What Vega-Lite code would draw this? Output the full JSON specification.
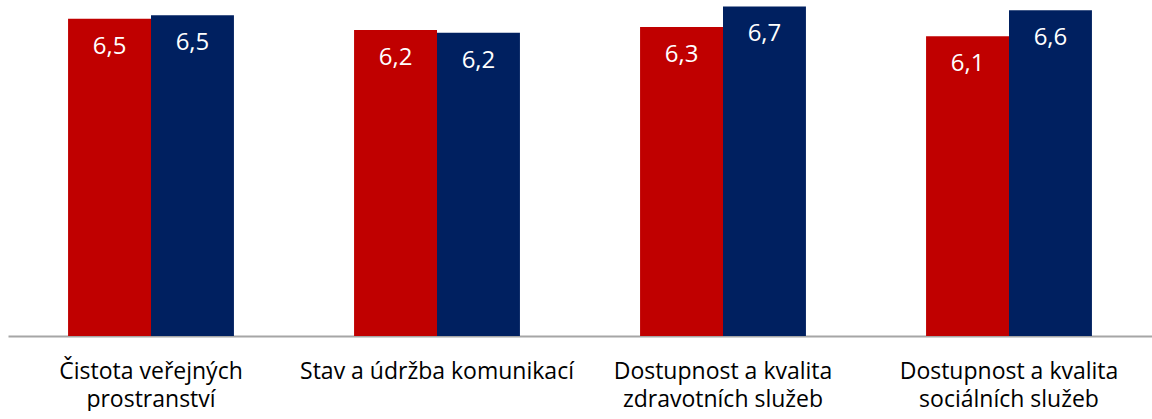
{
  "$schema": "https://vega.github.io/schema/vega-lite/v6.json",
  "width": 1144,
  "height": 336,
  "padding": {"left": 8, "top": 0, "right": 0, "bottom": 0},
  "background": "white",
  "config": {"view": {"stroke": null}},
  "data": {
    "values": [
      {"kategorie": "Čistota veřejných prostranství", "rada": "Řada 1", "hodnota": 6.47, "popisek": "6,5"},
      {"kategorie": "Čistota veřejných prostranství", "rada": "Řada 2", "hodnota": 6.54, "popisek": "6,5"},
      {"kategorie": "Stav a údržba komunikací", "rada": "Řada 1", "hodnota": 6.24, "popisek": "6,2"},
      {"kategorie": "Stav a údržba komunikací", "rada": "Řada 2", "hodnota": 6.18, "popisek": "6,2"},
      {"kategorie": "Dostupnost a kvalita zdravotních služeb", "rada": "Řada 1", "hodnota": 6.3, "popisek": "6,3"},
      {"kategorie": "Dostupnost a kvalita zdravotních služeb", "rada": "Řada 2", "hodnota": 6.72, "popisek": "6,7"},
      {"kategorie": "Dostupnost a kvalita sociálních služeb", "rada": "Řada 1", "hodnota": 6.11, "popisek": "6,1"},
      {"kategorie": "Dostupnost a kvalita sociálních služeb", "rada": "Řada 2", "hodnota": 6.64, "popisek": "6,6"}
    ]
  },
  "encoding": {
    "x": {
      "field": "kategorie",
      "type": "nominal",
      "sort": null,
      "scale": {"paddingInner": 0.42, "paddingOuter": 0.21},
      "axis": {
        "title": null,
        "labelAngle": 0,
        "ticks": false,
        "domainColor": "#a6a6a6",
        "domainWidth": 2,
        "labelFont": "Open Sans",
        "labelFontSize": 23,
        "labelColor": "#000000",
        "labelPadding": 24,
        "labelLineHeight": 28,
        "labelLimit": 400,
        "labelExpr": "split(replace(replace(datum.value, 'veřejných ', 'veřejných|'), 'kvalita ', 'kvalita|'), '|')"
      }
    },
    "xOffset": {"field": "rada", "type": "nominal", "scale": {"paddingInner": 0, "paddingOuter": 0}},
    "y": {
      "field": "hodnota",
      "type": "quantitative",
      "scale": {"domain": [0, 6.85], "nice": false, "zero": true},
      "axis": null
    }
  },
  "layer": [
    {
      "mark": {"type": "bar"},
      "encoding": {
        "color": {
          "field": "rada",
          "type": "nominal",
          "scale": {"domain": ["Řada 1", "Řada 2"], "range": ["#C00000", "#002060"]},
          "legend": null
        }
      }
    },
    {
      "mark": {"type": "text", "baseline": "middle", "dy": 28, "color": "white", "font": "Open Sans", "fontSize": 24},
      "encoding": {"text": {"field": "popisek"}}
    }
  ]
}
